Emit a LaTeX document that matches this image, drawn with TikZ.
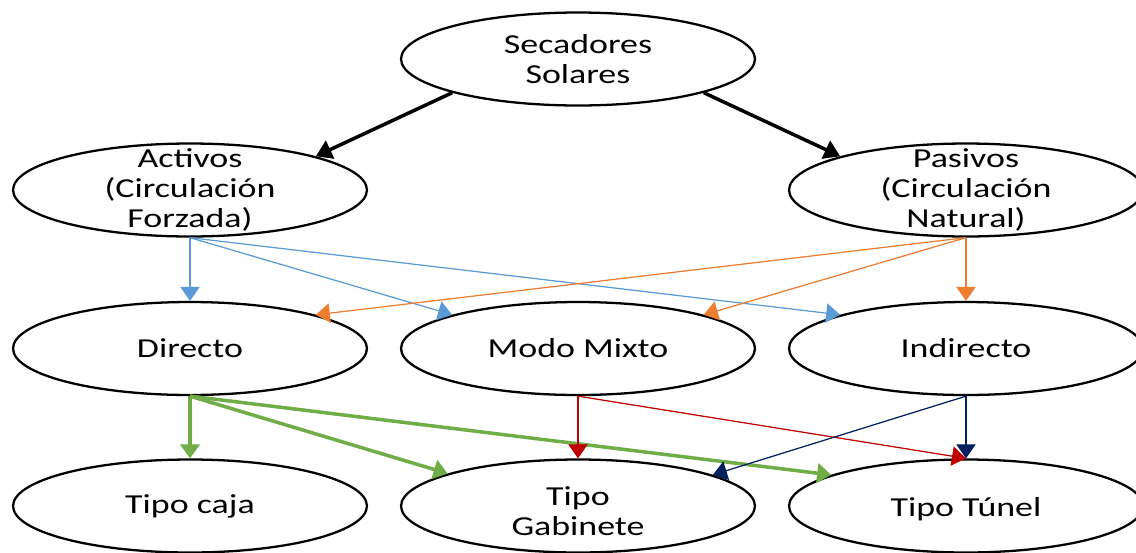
\documentclass[tikz,border=0pt]{standalone}
\usepackage{fontspec}
\setmainfont{Carlito}[FakeStretch=1.31]
\usepackage{tikz}
\usetikzlibrary{arrows.meta,shapes.geometric}
\definecolor{lnblue}{HTML}{5B9BD5}
\definecolor{lnorange}{HTML}{ED7D31}
\definecolor{lngreen}{HTML}{70AD47}
\definecolor{lnred}{HTML}{C00000}
\definecolor{lnnavy}{HTML}{002060}
\tikzset{
  blob/.style={ellipse, draw=black, line width=1.3pt, fill=white,
               minimum width=7.08cm, minimum height=1.86cm, inner sep=0pt},
  txt/.style={align=center, inner sep=0pt, font=\fontsize{15.6}{17.2}\selectfont},
  tip/.style={-{Triangle[length=8pt,width=11pt]}},
  main/.style={line width=2pt, draw=black, -{Triangle[length=9pt,width=11pt]}},
  thin/.style={tip, line width=0.7pt, draw=#1, fill=#1},
  thick/.style={tip, line width=2pt, draw=#1, fill=#1},
}
% columns and rows, in pixels (y grows downward)
\def\cA{190}
\def\cB{578}
\def\cC{966}
\def\rA{59}
\def\rB{190}
\def\rC{348.5}
\def\rD{506}

\begin{document}
\begin{tikzpicture}[x=0.02cm, y=-0.02cm]
  \useasboundingbox (0,0) rectangle (1136,552);
  \clip (0,0) rectangle (1136,552);
  \node[blob, label={[txt]center:Secadores\\Solares}] (sec) at (\cB,\rA) {};
  \node[blob, label={[txt]center:Activos\\(Circulación\\Forzada)}] (act) at (\cA,\rB) {};
  \node[blob, label={[txt]center:Pasivos\\(Circulación\\Natural)}] (pas) at (\cC,\rB) {};
  \node[blob, label={[txt]center:Directo}] (dir) at (\cA,\rC) {};
  \node[blob, label={[txt]center:Modo Mixto}] (mix) at (\cB,\rC) {};
  \node[blob, label={[txt]center:Indirecto}] (ind) at (\cC,\rC) {};
  \node[blob, label={[txt]center:Tipo caja}] (caja) at (\cA,\rD) {};
  \node[blob, label={[txt,yshift=-3pt]center:Tipo\\Gabinete}] (gab) at (\cB,\rD) {};
  \node[blob, label={[txt,yshift=-2pt]center:Tipo Túnel}] (tun) at (\cC,\rD) {};
  % top level
  \draw[main] (sec.195) -- (act.15);
  \draw[main] (sec.345) -- (pas.165);
  % activos / pasivos
  \draw[thin=lnblue] (act.south) -- (dir.north);
  \draw[thin=lnblue] (act.south) -- (mix.165);
  \draw[thin=lnblue] (act.south) -- (ind.165);
  \draw[thin=lnorange] (pas.south) -- (ind.north);
  \draw[thin=lnorange] (pas.south) -- (mix.15);
  \draw[thin=lnorange] (pas.south) -- (dir.15);
  % kinds of dryer
  \draw[thick=lngreen] (dir.south) -- (caja.north);
  \draw[thick=lngreen] (dir.south) -- (gab.166);
  \draw[thick=lngreen] (dir.south) -- (tun.167);
  \draw[thin=lnred] (mix.south) -- (gab.north);
  \draw[thin=lnred] (mix.south) -- (tun.north);
  \draw[thin=lnnavy] (ind.south) -- (tun.north);
  \draw[thin=lnnavy] (ind.south) -- (gab.13);
\end{tikzpicture}
\end{document}
